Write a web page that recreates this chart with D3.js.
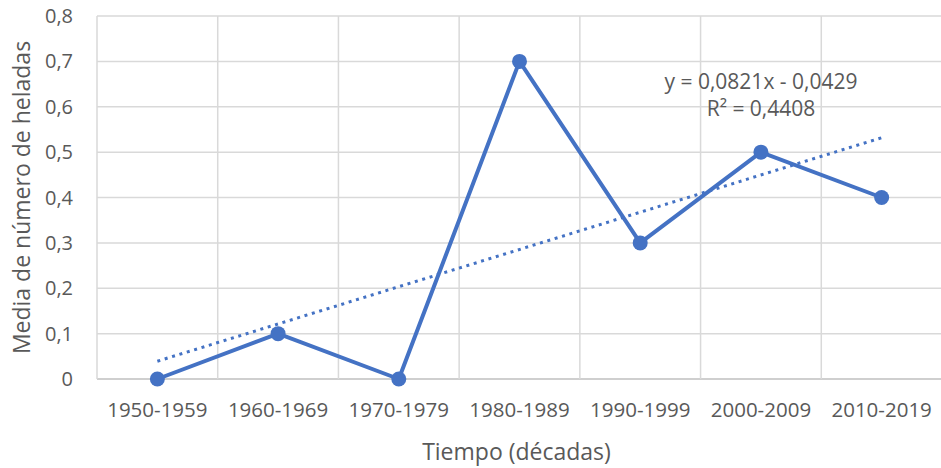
<!DOCTYPE html>
<html>
<head>
<meta charset="utf-8">
<script src="https://cdn.jsdelivr.net/npm/d3@7"></script>
<style>
  html, body { margin: 0; padding: 0; background: #fff; }
  #chart { width: 941px; height: 468px; }
  text { font-family: "Open Sans", "Liberation Sans", sans-serif; fill: #595959; }
</style>
</head>
<body>
<div id="chart"></div>
<script>
// Chart data
const decades = ['1950-1959', '1960-1969', '1970-1979', '1980-1989', '1990-1999', '2000-2009', '2010-2019'];
const heladas = [0, 0.1, 0, 0.7, 0.3, 0.5, 0.4];
const yTicks = [0, 0.1, 0.2, 0.3, 0.4, 0.5, 0.6, 0.7, 0.8];
const trendSlope = 0.0821;
const trendIntercept = -0.0429;
const trendLabel = ['y = 0,0821x - 0,0429', 'R² = 0,4408'];

const W = 941, H = 468;
const margin = { top: 16, right: -1, bottom: 89, left: 97 };
const width = W - margin.left - margin.right;
const height = H - margin.top - margin.bottom;
const blue = '#4472C4';

const svg = d3.select('#chart')
    .append('svg')
    .attr('width', W)
    .attr('height', H)
    .append('g')
    .attr('transform', `translate(${margin.left},${margin.top})`);

// Scales
const x = d3.scaleBand().domain(decades).range([0, width]);
const y = d3.scaleLinear().domain([0, 0.8]).range([height, 0]);
const fmt = v => v === 0 ? '0' : d3.format('.1f')(v).replace('.', ',');

// Horizontal gridlines
svg.append('g')
    .selectAll('line')
    .data(yTicks)
    .join('line')
    .attr('x1', 0).attr('x2', width)
    .attr('y1', d => y(d)).attr('y2', d => y(d))
    .attr('stroke', d => d === 0 ? '#bfbfbf' : '#d9d9d9')
    .attr('stroke-width', 1.5);

// Vertical gridlines on category boundaries
const bounds = decades.map(d => x(d)).concat([width]);
svg.append('g')
    .selectAll('line')
    .data(bounds)
    .join('line')
    .attr('x1', d => d).attr('x2', d => d)
    .attr('y1', 0).attr('y2', height)
    .attr('stroke', '#d9d9d9')
    .attr('stroke-width', 1.5);

// Y axis labels
svg.append('g')
    .selectAll('text')
    .data(yTicks)
    .join('text')
    .attr('x', -24)
    .attr('y', d => y(d))
    .attr('dy', '0.35em')
    .attr('text-anchor', 'end')
    .style('font-size', '20px')
    .text(fmt);

// X axis labels
svg.append('g')
    .selectAll('text')
    .data(decades)
    .join('text')
    .attr('x', d => x(d) + x.bandwidth() / 2)
    .attr('y', height + 31)
    .attr('dy', '0.35em')
    .attr('text-anchor', 'middle')
    .style('font-size', '20.5px')
    .text(d => d);

// Axis titles
svg.append('text')
    .attr('x', width / 2 - 3)
    .attr('y', height + 73)
    .attr('dy', '0.35em')
    .attr('text-anchor', 'middle')
    .style('font-size', '23px')
    .text('Tiempo (décadas)');

svg.append('text')
    .attr('transform', `translate(${-75},${height / 2}) rotate(-90)`)
    .attr('dy', '0.35em')
    .attr('text-anchor', 'middle')
    .style('font-size', '23px')
    .text('Media de número de heladas');

// Trendline (linear, from the fitted equation)
const cx = i => x(decades[i]) + x.bandwidth() / 2;
const trendPts = [1, decades.length].map(n => ({ i: n - 1, v: trendSlope * n + trendIntercept }));
svg.append('path')
    .datum(trendPts)
    .attr('fill', 'none')
    .attr('stroke', blue)
    .attr('stroke-width', 3)
    .attr('stroke-dasharray', '3,4.7')
    .attr('d', d3.line().x(d => cx(d.i)).y(d => y(d.v)));

// Data line
const line = d3.line()
    .x((d, i) => cx(i))
    .y(d => y(d));

svg.append('path')
    .datum(heladas)
    .attr('fill', 'none')
    .attr('stroke', blue)
    .attr('stroke-width', 4)
    .attr('stroke-linejoin', 'round')
    .attr('d', line);

svg.append('g')
    .selectAll('circle')
    .data(heladas)
    .join('circle')
    .attr('cx', (d, i) => cx(i))
    .attr('cy', d => y(d))
    .attr('r', 7.5)
    .attr('fill', blue);

// Trendline label
svg.append('g')
    .selectAll('text')
    .data(trendLabel)
    .join('text')
    .attr('x', 664)
    .attr('y', (d, i) => 73 + i * 27)
    .attr('text-anchor', 'middle')
    .style('font-size', '21px')
    .text(d => d);
</script>
</body>
</html>
